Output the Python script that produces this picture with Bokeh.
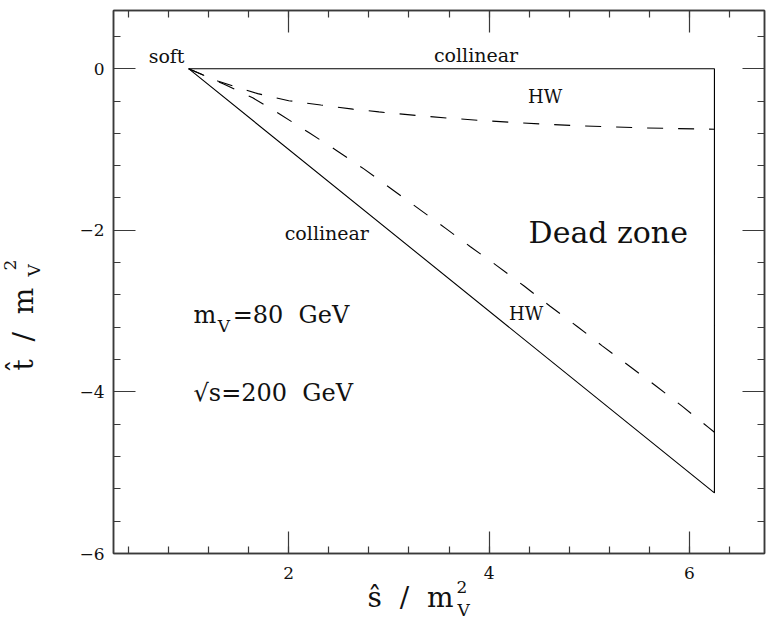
import math
from bokeh.plotting import figure
from bokeh.models import LinearAxis, SingleIntervalTicker, Label
from bokeh.layouts import row, column
from bokeh.embed import file_html
from bokeh.resources import INLINE

# ---- data ----
s_soft = 1.0          # soft point  (s/mV^2)
s_max = 6.25          # (sqrt(s)/mV)^2 = (200/80)^2
t_min = -5.25         # t at s_max on the collinear line

# outer (collinear) boundary of phase space
boundary_s = [s_soft, s_max, s_max, s_soft]
boundary_t = [0.0, 0.0, t_min, 0.0]

# upper HW (dashed) curve
hw_up_s = [1.00, 1.29, 1.69, 2.00, 2.32, 2.64, 2.90, 3.28, 3.59, 3.91, 4.24,
           4.56, 4.88, 5.20, 5.53, 5.84, 6.17, 6.25]
hw_up_t = [0.0, -0.153, -0.309, -0.396, -0.450, -0.500, -0.535, -0.580, -0.612,
           -0.640, -0.665, -0.687, -0.705, -0.720, -0.732, -0.741, -0.748, -0.750]

# lower HW (dashed) curve
hw_lo_s = [1.00, 1.35, 1.64, 1.92, 2.20, 2.48, 2.75, 3.56, 3.81, 4.08, 4.35,
           4.61, 4.88, 5.13, 5.40, 5.67, 5.93, 6.19, 6.25]
hw_lo_t = [0.0, -0.19, -0.36, -0.57, -0.79, -1.015, -1.24, -1.97, -2.20, -2.44,
           -2.69, -2.94, -3.19, -3.43, -3.68, -3.93, -4.18, -4.44, -4.50]

x_ticks = [2, 4, 6]
x_tick_labels = ["2", "4", "6"]
y_ticks = [0, -2, -4, -6]
y_tick_labels = ["0", "\u22122", "\u22124", "\u22126"]

FONT = "DejaVu Serif"
FRAME = "#3a3a3a"
TXT = "#111111"
NB = "\u00a0"

# ---------------- main plot ----------------
p = figure(width=721, height=591, x_range=(0.25, 6.75), y_range=(-6, 0.72),
           output_backend="svg", toolbar_location=None,
           min_border_left=63, min_border_right=7, min_border_top=10,
           min_border_bottom=38, background_fill_color="white",
           border_fill_color="white")
p.grid.visible = False
p.outline_line_color = FRAME
p.outline_line_width = 1.5

bottom = p.below[0]
left = p.left[0]
top = LinearAxis()
right = LinearAxis()
p.add_layout(top, "above")
p.add_layout(right, "right")

for ax in (bottom, top):
    ax.ticker = SingleIntervalTicker(interval=2, num_minor_ticks=5)
for ax in (left, right):
    ax.ticker = SingleIntervalTicker(interval=2, num_minor_ticks=5)
bottom.major_label_overrides = {v: l for v, l in zip(x_ticks, x_tick_labels)}
left.major_label_overrides = {v: l for v, l in zip(y_ticks, y_tick_labels)}
top.major_label_overrides = {v: "" for v in x_ticks}
right.major_label_overrides = {v: "" for v in y_ticks}

for ax in (bottom, top, left, right):
    ax.axis_line_color = FRAME
    ax.axis_line_width = 1.5
    ax.major_tick_line_color = FRAME
    ax.minor_tick_line_color = FRAME
    ax.major_tick_line_width = 1.2
    ax.minor_tick_line_width = 1.2
    ax.major_tick_in = 22
    ax.major_tick_out = 0
    ax.minor_tick_in = 7
    ax.minor_tick_out = 0
    ax.major_label_text_font = FONT
    ax.major_label_text_font_size = "17px"
    ax.major_label_text_color = TXT

bottom.major_label_standoff = 13
left.major_label_standoff = 9
top.major_label_standoff = 0
right.major_label_standoff = 0

# curves
p.line(boundary_s, boundary_t, line_color="black", line_width=1.1)
p.line(hw_up_s, hw_up_t, line_color="black", line_width=1.1, line_dash="16 15")
p.line(hw_lo_s, hw_lo_t, line_color="black", line_width=1.1, line_dash="17 16")


def lab(fig, x, y, text, size, align="left", angle=0.0):
    fig.add_layout(Label(x=x, y=y, text=text, text_font=FONT,
                         text_font_size=size, text_color=TXT,
                         text_align=align, text_baseline="alphabetic",
                         angle=angle))


lab(p, 0.78, 0.156, "soft", "19px", "center")
lab(p, 3.87, 0.168, "collinear", "19px", "center")
lab(p, 4.56, -0.347, "HW", "18px", "center")
lab(p, 2.38, -2.030, "collinear", "19px", "center")
lab(p, 5.19, -2.028, "Dead" + NB + "zone", "30px", "center")
lab(p, 4.37, -3.032, "HW", "18px", "center")

lab(p, 1.049, -3.046, "m", "24px")
lab(p, 1.29, -3.186, "V", "17px")
lab(p, 1.44, -3.046, "=80" + NB + NB + "GeV", "24px")
lab(p, 1.049, -4.016, "\u221As=200" + NB + NB + "GeV", "24px")

# ---------------- x-axis title (frame aligned with main plot: page px) ----------------
xt = figure(width=721, height=50, x_range=(113, 764), y_range=(-621, -571),
            output_backend="svg", toolbar_location=None,
            x_axis_type=None, y_axis_type=None, min_border=0,
            background_fill_color=None, border_fill_color=None,
            outline_line_color=None)
xt.margin = (-20, 0, 0, 0)
lab(xt, 367, -597.1, "\u015D" + NB + NB + "/" + NB + NB + "m", "28px")
lab(xt, 456, -586.7, "2", "17px")
lab(xt, 457, -609.7, "V", "17px")

# ---------------- y-axis title (page px) ----------------
yt = figure(width=50, height=621, x_range=(0, 50), y_range=(-621, 0),
            output_backend="svg", toolbar_location=None,
            x_axis_type=None, y_axis_type=None, min_border=0,
            background_fill_color=None, border_fill_color=None,
            outline_line_color=None)
lab(yt, 22.6, -370, "t\u0302" + NB + NB + "/" + NB + NB + "m", "28px", angle=math.pi / 2)
lab(yt, 9.0, -270, "2", "17px", angle=math.pi / 2)
lab(yt, 33.7, -276, "V", "17px", angle=math.pi / 2)

layout = row(yt, column(p, xt))
open("out.html", "w").write(file_html(layout, INLINE))
